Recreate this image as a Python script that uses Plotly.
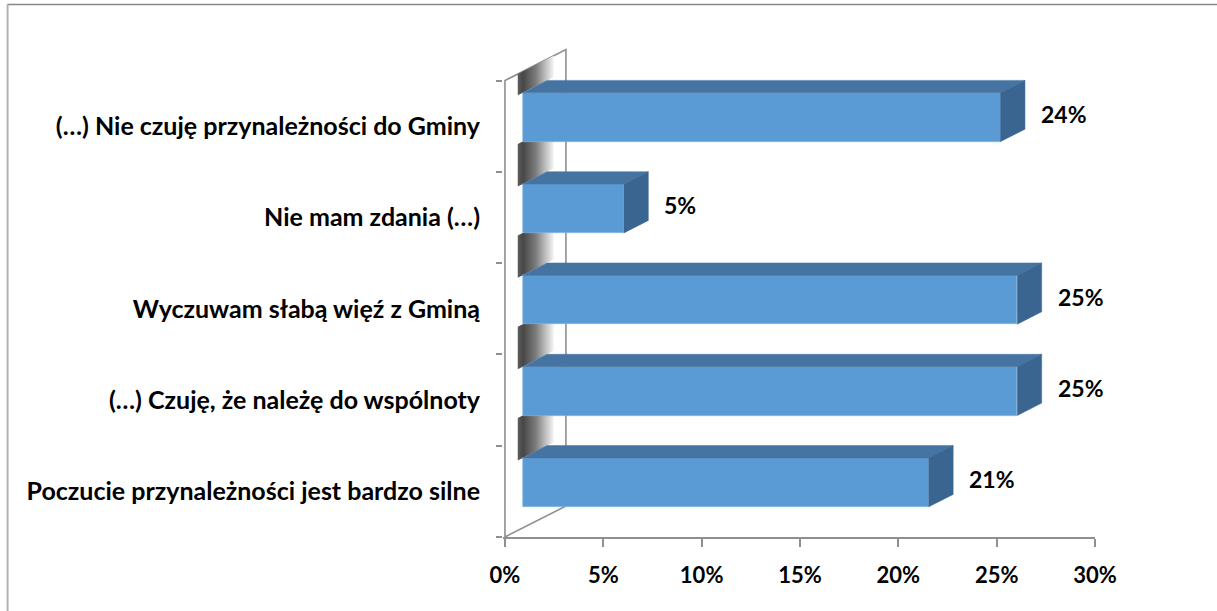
import plotly.graph_objects as go

# ---------------- data ----------------
categories = [
    "Poczucie przynależności jest bardzo silne",
    "(…) Czuję, że należę do wspólnoty",
    "Wyczuwam słabą więź z Gminą",
    "Nie mam zdania (…)",
    "(…) Nie czuję przynależności do Gminy",
]
values = [20.65, 25.15, 25.15, 5.15, 24.3]
x_tickvals = [0, 5, 10, 15, 20, 25, 30]
x_ticktext = ["0%", "5%", "10%", "15%", "20%", "25%", "30%"]

# ---------------- geometry / style ----------------
W, H = 1217, 611
X0_PX, SX = 504.5, 19.68      # pixel of 0 %, pixels per percent
YTOP_PX, SY = 80.5, 91.4      # pixel of top category boundary, pixels per category
XR = [-0.1, 30]
YR = [-0.5, 4.9]
l = X0_PX + XR[0] * SX
pw = (XR[1] - XR[0]) * SX
r = W - l - pw
t = YTOP_PX - (YR[1] - 4.5) * SY
ph = (YR[1] - YR[0]) * SY
b = H - t - ph

DX = 61 / SX          # full depth, x units
DY = 31 / SY          # full depth, y units
F0, F1 = 0.29, 0.69   # bar front/back depth fractions
BH = 0.535            # bar height (category units)
S0, S1 = 0.21, 0.80   # wall shading strip depth fractions

FRONT = "#5b9bd5"
TOP = "#4574a2"
SIDE = "#3b6591"
AXIS = "#8f8f8f"
CAT_FONT = dict(family="Lato", size=25, color="#000000", weight="bold")
TICK_FONT = dict(family="Lato", size=22, color="#000000", weight="bold")
LBL_FONT = dict(family="Lato", size=23, color="#000000", weight="bold")

pos = list(range(len(categories)))
n = len(pos)

fig = go.Figure()

# ---- back layer (main axes): side wall + shading strips ----
fig.add_trace(go.Scatter(
    x=[0, 0, DX, DX, 0], y=[-0.5, 4.5, 4.5 + DY, -0.5 + DY, -0.5],
    mode="lines", fill="toself", fillcolor="#ffffff",
    line=dict(color=AXIS, width=1.6), hoverinfo="skip", showlegend=False))

for i, c in enumerate(pos):
    bot = c + BH / 2
    upper = (c + 1) - BH / 2 if i < n - 1 else 4.5
    xs = [S0 * DX, S1 * DX, S1 * DX, S0 * DX, S0 * DX]
    ys = [bot + S0 * DY, bot + S1 * DY, upper + S1 * DY, upper + S0 * DY, bot + S0 * DY]
    fig.add_trace(go.Scatter(
        x=xs, y=ys, mode="lines", fill="toself", line=dict(width=0),
        fillgradient=dict(type="horizontal",
                          colorscale=[[0, "#5c5c5c"], [0.15, "#474747"], [0.5, "#7c7c7c"],
                                      [0.8, "#c6c6c6"], [1, "#f4f4f4"]]),
        hoverinfo="skip", showlegend=False))

# ---- front layer (overlay axes): 3D bars ----
fig.add_trace(go.Bar(
    y=[c + F0 * DY for c in pos], x=values, base=[F0 * DX] * n,
    orientation="h", width=BH, xaxis="x2", yaxis="y2",
    marker=dict(color=FRONT, line=dict(width=0.6, color="#8ab8e3")),
    hoverinfo="skip", showlegend=False))

for c, v in zip(pos, values):
    yt = c + BH / 2
    yb = c - BH / 2
    fig.add_trace(go.Scatter(
        x=[F0 * DX, v + F0 * DX, v + F1 * DX, F1 * DX, F0 * DX],
        y=[yt + F0 * DY, yt + F0 * DY, yt + F1 * DY, yt + F1 * DY, yt + F0 * DY],
        mode="lines", fill="toself", fillcolor=TOP, line=dict(width=0.5, color=TOP),
        xaxis="x2", yaxis="y2", hoverinfo="skip", showlegend=False))
    fig.add_trace(go.Scatter(
        x=[v + F0 * DX, v + F0 * DX, v + F1 * DX, v + F1 * DX, v + F0 * DX],
        y=[yb + F0 * DY, yt + F0 * DY, yt + F1 * DY, yb + F1 * DY, yb + F0 * DY],
        mode="lines", fill="toself", fillcolor=SIDE, line=dict(width=0.5, color=SIDE),
        xaxis="x2", yaxis="y2", hoverinfo="skip", showlegend=False))

# data labels
annotations = []
for c, v in zip(pos, values):
    annotations.append(dict(
        x=v + F1 * DX, y=c + F0 * DY + 0.035, xref="x", yref="y",
        text=f"{round(v)}%", showarrow=False, xanchor="left", yanchor="middle",
        xshift=14, font=LBL_FONT))

# chart border (top and left)
def px_to_paper_x(px):
    return (px - l) / pw

def px_to_paper_y(py):
    return 1 - (py - t) / ph

shapes = [
    dict(type="line", xref="paper", yref="paper",
         x0=px_to_paper_x(6.5), x1=px_to_paper_x(W + 20),
         y0=px_to_paper_y(4.5), y1=px_to_paper_y(4.5),
         line=dict(color="#878787", width=1.5)),
    dict(type="line", xref="paper", yref="paper",
         x0=px_to_paper_x(6.8), x1=px_to_paper_x(6.8),
         y0=px_to_paper_y(4.5), y1=px_to_paper_y(H + 20),
         line=dict(color="#b3b3b3", width=2)),
]

fig.update_layout(
    width=W, height=H, autosize=False,
    margin=dict(l=l, r=r, t=t, b=b, pad=0),
    paper_bgcolor="#ffffff", plot_bgcolor="rgba(0,0,0,0)",
    showlegend=False, bargap=0,
    annotations=annotations, shapes=shapes,
    xaxis=dict(range=XR, tickmode="array", tickvals=x_tickvals, ticktext=x_ticktext,
               ticks="outside", ticklen=8, tickwidth=1.5, tickcolor=AXIS,
               showline=True, linecolor=AXIS, linewidth=1.6, ticklabelstandoff=10,
               showgrid=False, zeroline=False, tickfont=TICK_FONT, fixedrange=True),
    yaxis=dict(range=YR, tickmode="array", tickvals=pos, ticktext=categories,
               ticks="", showline=False, showgrid=False, zeroline=False,
               minor=dict(tickmode="array", tickvals=[c - 0.5 for c in pos] + [pos[-1] + 0.5],
                          ticks="outside", ticklen=6, tickwidth=1.5, tickcolor=AXIS),
               ticklabelstandoff=22, tickfont=CAT_FONT, fixedrange=True),
    xaxis2=dict(range=XR, overlaying="x", visible=False, fixedrange=True),
    yaxis2=dict(range=YR, overlaying="y", visible=False, fixedrange=True),
)

fig.write_html("out.html", config={"displayModeBar": False},
               post_script="document.body.style.margin='0';")
